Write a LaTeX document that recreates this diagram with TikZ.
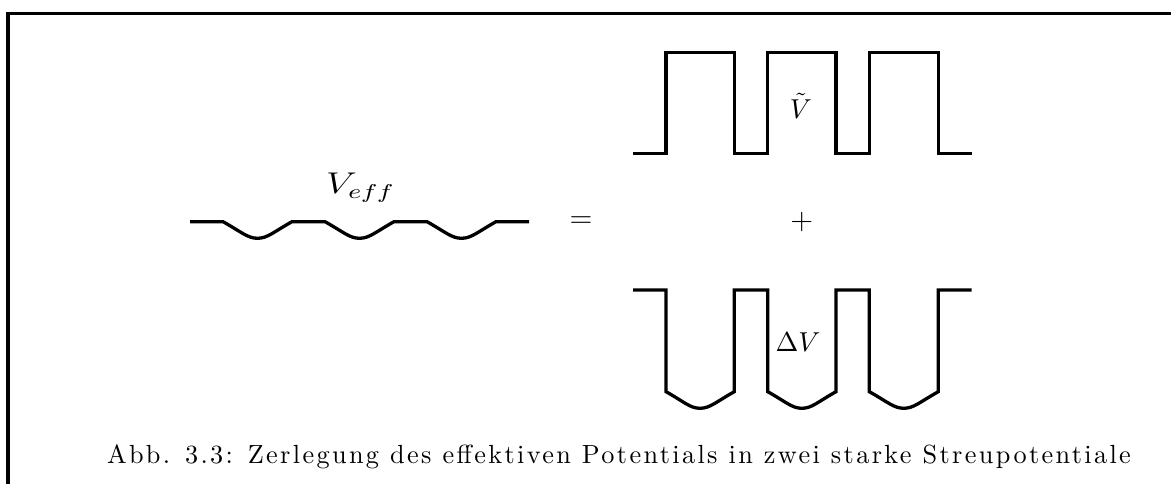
\documentclass[tikz,border=0pt]{standalone}
\usepackage{fontspec}
\usepackage{graphicx}
\newfontfamily\capfont{lmroman10-regular.otf}[LetterSpace=9]
\tikzset{
  frameline/.style={line width=1.4pt},
  wave/.style={line width=1.32pt, miter limit=10},
  lbl/.style={inner sep=0pt, outer sep=0pt},
}
\begin{document}
\begin{tikzpicture}[x=0.4pt, y=-0.4pt]
\useasboundingbox (0,0) rectangle (1171,484);
% frame (only left and top edges visible)
\draw[frameline] (8,490) -- (8,13.5) -- (1180,13.5);
% effective potential
\draw[wave] (190,221.7) -- (223,221.7)
  .. controls (241,231.7) and (247.5,238.3) .. (257.5,238.3)
  .. controls (267.5,238.3) and (274,231.7) .. (292,221.7) -- (325,221.7)
  .. controls (343,231.7) and (349.5,238.3) .. (359.5,238.3)
  .. controls (369.5,238.3) and (376,231.7) .. (394,221.7) -- (427,221.7)
  .. controls (445,231.7) and (451.5,238.3) .. (461.5,238.3)
  .. controls (471.5,238.3) and (478,231.7) .. (496,221.7) -- (529,221.7);
\node[lbl, anchor=base west] (veff) at (326,194) {\scalebox{1.3}[1]{\fontsize{11.7pt}{14pt}\selectfont$V_{eff}$}};
% equals and plus
\node[lbl, anchor=base] (eq) at (581,227.5) {\fontsize{12.4pt}{15pt}\selectfont$=$};
\node[lbl, anchor=base] (plus) at (801.7,229.3) {\fontsize{12.4pt}{15pt}\selectfont$+$};
% square potential
\draw[wave] (633,153.3) -- (666,153.3) -- (666,52.7) -- (734.3,52.7) -- (734.3,153.3)
  -- (767.7,153.3) -- (767.7,52.7) -- (836,52.7) -- (836,153.3)
  -- (869.3,153.3) -- (869.3,52.7) -- (938.3,52.7) -- (938.3,153.3) -- (971.7,153.3);
\node[lbl, anchor=base] (vt) at (801,118.8) {\fontsize{10.9pt}{13pt}\selectfont$\tilde{V}$};
% well potential
\draw[wave] (633,290) -- (666,290) -- (666,391.7)
  .. controls (684,401.7) and (690,408.3) .. (700,408.3)
  .. controls (710,408.3) and (716.3,401.7) .. (734.3,391.7) -- (734.3,290)
  -- (767.7,290) -- (767.7,391.7)
  .. controls (785.7,401.7) and (791.9,408.3) .. (801.9,408.3)
  .. controls (811.9,408.3) and (818,401.7) .. (836,391.7) -- (836,290)
  -- (869.3,290) -- (869.3,391.7)
  .. controls (887.3,401.7) and (893.8,408.3) .. (903.8,408.3)
  .. controls (913.8,408.3) and (920.3,401.7) .. (938.3,391.7) -- (938.3,290)
  -- (971.7,290);
\node[lbl, anchor=base] (dv) at (798,352) {\fontsize{10.9pt}{13pt}\selectfont$\Delta V$};
% caption
\node[lbl, anchor=base west] (cap) at (107,463.5) {\capfont\fontsize{10.5pt}{12pt}\selectfont Abb. 3.3: Zerlegung des effektiven Potentials in zwei starke Streupotentiale};
\end{tikzpicture}
\end{document}
